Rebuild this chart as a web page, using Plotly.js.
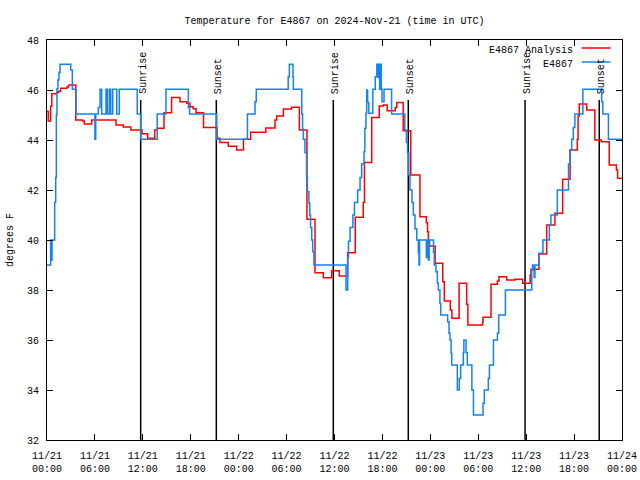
<!DOCTYPE html>
<html>
<head>
<meta charset="utf-8">
<script src="https://cdn.plot.ly/plotly-3.0.1.min.js"></script>
<style>html,body{margin:0;padding:0;background:#fff;}#chart{width:640px;height:480px;}</style>
</head>
<body>
<div id="chart"></div>
<script>
// Hours since 2024-11-21 00:00 UTC
var tickHours = [0, 6, 12, 18, 24, 30, 36, 42, 48, 54, 60, 66, 72];
var tickLabels = ["11/21<br>00:00", "11/21<br>06:00", "11/21<br>12:00", "11/21<br>18:00",
                  "11/22<br>00:00", "11/22<br>06:00", "11/22<br>12:00", "11/22<br>18:00",
                  "11/23<br>00:00", "11/23<br>06:00", "11/23<br>12:00", "11/23<br>18:00",
                  "11/24<br>00:00"];

var analysisHours = [0,0.15,0.45,0.6,1.2,1.45,1.7,2.5,2.7,3.6,4.47,4.67,5.6,8.64,9.56,10.5,11.9,12.6,13.5,13.8,
  14.65,15.6,16.65,17.5,17.9,18.3,18.66,19.6,21.3,21.66,22.7,23.75,24.6,25.5,27.4,28.55,28.76,29.6,30.6,31.6,
  32.55,33.56,34.6,35.65,36.6,37.65,38.6,39.6,39.75,40.66,41.6,42.1,42.6,43.6,43.8,44.6,45.55,46.7,47.5,47.65,
  47.75,47.9,48.6,49.55,49.75,50.5,50.7,51.6,52.55,52.7,54.55,54.6,55.6,56.4,56.6,57.56,58.6,59.57,60.5,60.6,
  61.6,62.57,63.6,64.57,65.5,66.4,66.5,66.65,67.58,68.6,69.4,70.4,71.3,71.45,72];
var analysisTemps = [45.15,44.76,45.35,45.85,45.9,45.95,46.07,46.12,46.2,44.8,44.76,44.64,44.8,44.6,44.52,44.4,44.25,44.07,44.4,44.47,
  45.09,45.7,45.53,45.47,45.33,45.25,45.09,44.5,44.07,43.9,43.75,43.6,44.03,44.31,44.48,44.8,44.96,45.24,45.31,44.4,
  40.83,38.69,38.49,38.77,38.56,39.49,40.91,41.5,43.1,44.9,45.36,45.4,45.17,45.3,45.5,44.37,42.6,40.93,40.69,40.33,
  39.93,39.76,39.07,38.33,37.56,37.2,36.87,38.27,37.43,36.6,36.73,36.91,38.23,38.36,38.53,38.4,38.43,38.27,38.6,38.83,
  39.44,40.6,41.07,42.43,43.6,44.03,44.96,45.44,45.2,44.0,43.93,43.0,42.8,42.47,42.47];

var obsHours = [0,0.46,0.5,0.54,0.58,0.63,0.96,1.09,1.17,1.25,1.37,1.5,1.63,2.97,3.17,3.63,6.0,6.1,6.43,6.64,
  6.85,7.39,7.55,7.8,7.98,8.23,8.73,9.05,11.3,11.73,13.8,14.9,17.7,17.85,21.25,25.1,26.05,26.2,30.2,30.35,
  30.8,30.85,31.9,32.0,32.1,32.3,32.5,32.6,32.8,32.9,33.0,33.15,33.27,33.43,37.44,37.65,37.75,37.95,38.3,38.5,
  38.9,39.2,39.4,39.7,39.8,39.94,40.03,40.15,40.3,40.8,41.1,41.3,41.45,41.52,41.65,41.72,41.85,41.95,42.2,43.15,
  44.8,45.0,45.15,45.3,45.45,45.7,45.87,46.08,46.3,46.5,46.58,46.65,47.5,47.58,47.75,47.85,48.4,48.5,48.7,48.88,
  49.0,49.2,49.3,50.17,50.34,50.46,50.6,50.68,51.38,51.63,51.8,52.13,52.2,52.47,52.63,53.2,53.4,54.6,54.76,55.26,
  55.4,55.9,56.4,56.56,57.4,60.7,60.8,61.0,61.1,61.6,62.1,62.9,63.1,63.9,65.3,65.5,65.7,65.9,66.1,67.1,
  69.45,69.6,70.3,72];
var obsTemps = [39.0,40.0,39.2,40.0,39.2,40.0,41.5,42.5,45.0,46.05,46.4,46.7,47.03,46.8,46.03,45.04,44.03,45.04,45.3,46.03,
  45.04,46.03,45.04,46.03,45.04,46.03,45.04,46.03,45.04,44.03,45.04,46.03,45.3,45.04,44.03,45.04,45.53,46.03,46.53,47.03,
  46.53,46.03,45.04,44.43,44.03,43.5,42.53,41.93,41.47,41.0,40.5,40.0,39.53,39.0,38.0,39.3,39.95,40.5,41.0,41.5,
  42.0,42.5,43.04,43.53,44.47,45.07,46.0,45.5,45.07,46.03,46.53,47.03,46.5,47.03,46.03,47.03,46.03,45.53,46.03,45.04,
  44.4,43.9,43.5,42.6,42.0,41.5,41.0,40.45,40.0,39.5,39.0,40.0,39.3,40.0,39.2,40.0,39.5,39.0,38.73,38.27,
  38.0,37.47,37.0,36.73,36.27,36.0,35.47,35.0,34.0,34.47,35.0,35.5,36.0,35.5,35.0,34.0,33.0,33.47,34.0,34.47,
  35.0,36.0,36.27,37.0,38.0,38.8,39.0,38.5,39.0,39.47,40.0,40.6,41.0,42.0,43.04,43.6,44.03,44.5,45.04,46.03,
  45.53,45.04,44.03,44.03];

var sunHours = [11.73, 21.2, 35.85, 45.24, 59.86, 69.15];
var sunLabels = ["Sunrise", "Sunset", "Sunrise", "Sunset", "Sunrise", "Sunset"];
var sunLineTop = 45.6;
var yMin = 32, yMax = 48;

var FONT = "Liberation Mono, DejaVu Sans Mono, monospace";
var RED = "#ff0000", BLUE = "#1283f0";

// Sunrise/sunset vertical lines as one trace with gaps
var sx = [], sy = [];
sunHours.forEach(function (h) { sx.push(h, h, null); sy.push(yMin, sunLineTop, null); });

var traces = [
  {x: sx, y: sy, mode: "lines", line: {color: "#000", width: 1.5}, hoverinfo: "skip", showlegend: false},
  {x: analysisHours, y: analysisTemps, name: "E4867 Analysis", mode: "lines",
   line: {color: RED, width: 1.5, shape: "hv"}, showlegend: false},
  {x: obsHours, y: obsTemps, name: "E4867", mode: "lines",
   line: {color: BLUE, width: 1.5, shape: "hv"}, showlegend: false}
];

var annotations = sunHours.map(function (h, i) {
  return {x: h, y: sunLineTop, xref: "x", yref: "y", text: sunLabels[i], showarrow: false,
          textangle: -90, xanchor: "center", yanchor: "bottom", xshift: 2, yshift: 4,
          font: {family: FONT, size: 10, color: "#000"}};
});
// Gnuplot-style legend: text then sample line
annotations.push({xref: "paper", yref: "paper", x: 0.919, y: 0.973, text: "E4867 Analysis",
  showarrow: false, xanchor: "right", yanchor: "middle", font: {family: FONT, size: 10, color: "#000"}});
annotations.push({xref: "paper", yref: "paper", x: 0.919, y: 0.938, text: "E4867",
  showarrow: false, xanchor: "right", yanchor: "middle", font: {family: FONT, size: 10, color: "#000"}});

var shapes = [
  {type: "line", xref: "paper", yref: "paper", x0: 0.930, x1: 0.980, y0: 0.98, y1: 0.98, line: {color: RED, width: 1.5}},
  {type: "line", xref: "paper", yref: "paper", x0: 0.930, x1: 0.980, y0: 0.945, y1: 0.945, line: {color: BLUE, width: 1.5}}
];

var axisCommon = {
  showline: true, linecolor: "#000", linewidth: 1, mirror: "allticks",
  ticks: "inside", ticklen: 6, tickcolor: "#000", tickwidth: 1,
  showgrid: false, zeroline: false,
  tickfont: {family: FONT, size: 10, color: "#000"}
};

var layout = {
  width: 640, height: 480,
  margin: {l: 47, r: 18, t: 40, b: 40},
  paper_bgcolor: "#fff", plot_bgcolor: "#fff",
  title: {text: "Temperature for E4867 on 2024-Nov-21 (time in UTC)", x: 0.5, xref: "paper",
          y: 0.958, yref: "container", yanchor: "middle", font: {family: FONT, size: 10, color: "#000"}},
  xaxis: Object.assign({}, axisCommon, {range: [0, 72], tickmode: "array", tickvals: tickHours, ticktext: tickLabels,
          ticklabelstandoff: 6}),
  yaxis: Object.assign({}, axisCommon, {range: [yMin, yMax], dtick: 2, tick0: 32, ticklabelstandoff: 5,
          title: {text: "degrees F", standoff: 11, font: {family: FONT, size: 10, color: "#000"}}}),
  annotations: annotations,
  shapes: shapes,
  showlegend: false
};

Plotly.newPlot("chart", traces, layout, {staticPlot: true, displayModeBar: false});
</script>
</body>
</html>
